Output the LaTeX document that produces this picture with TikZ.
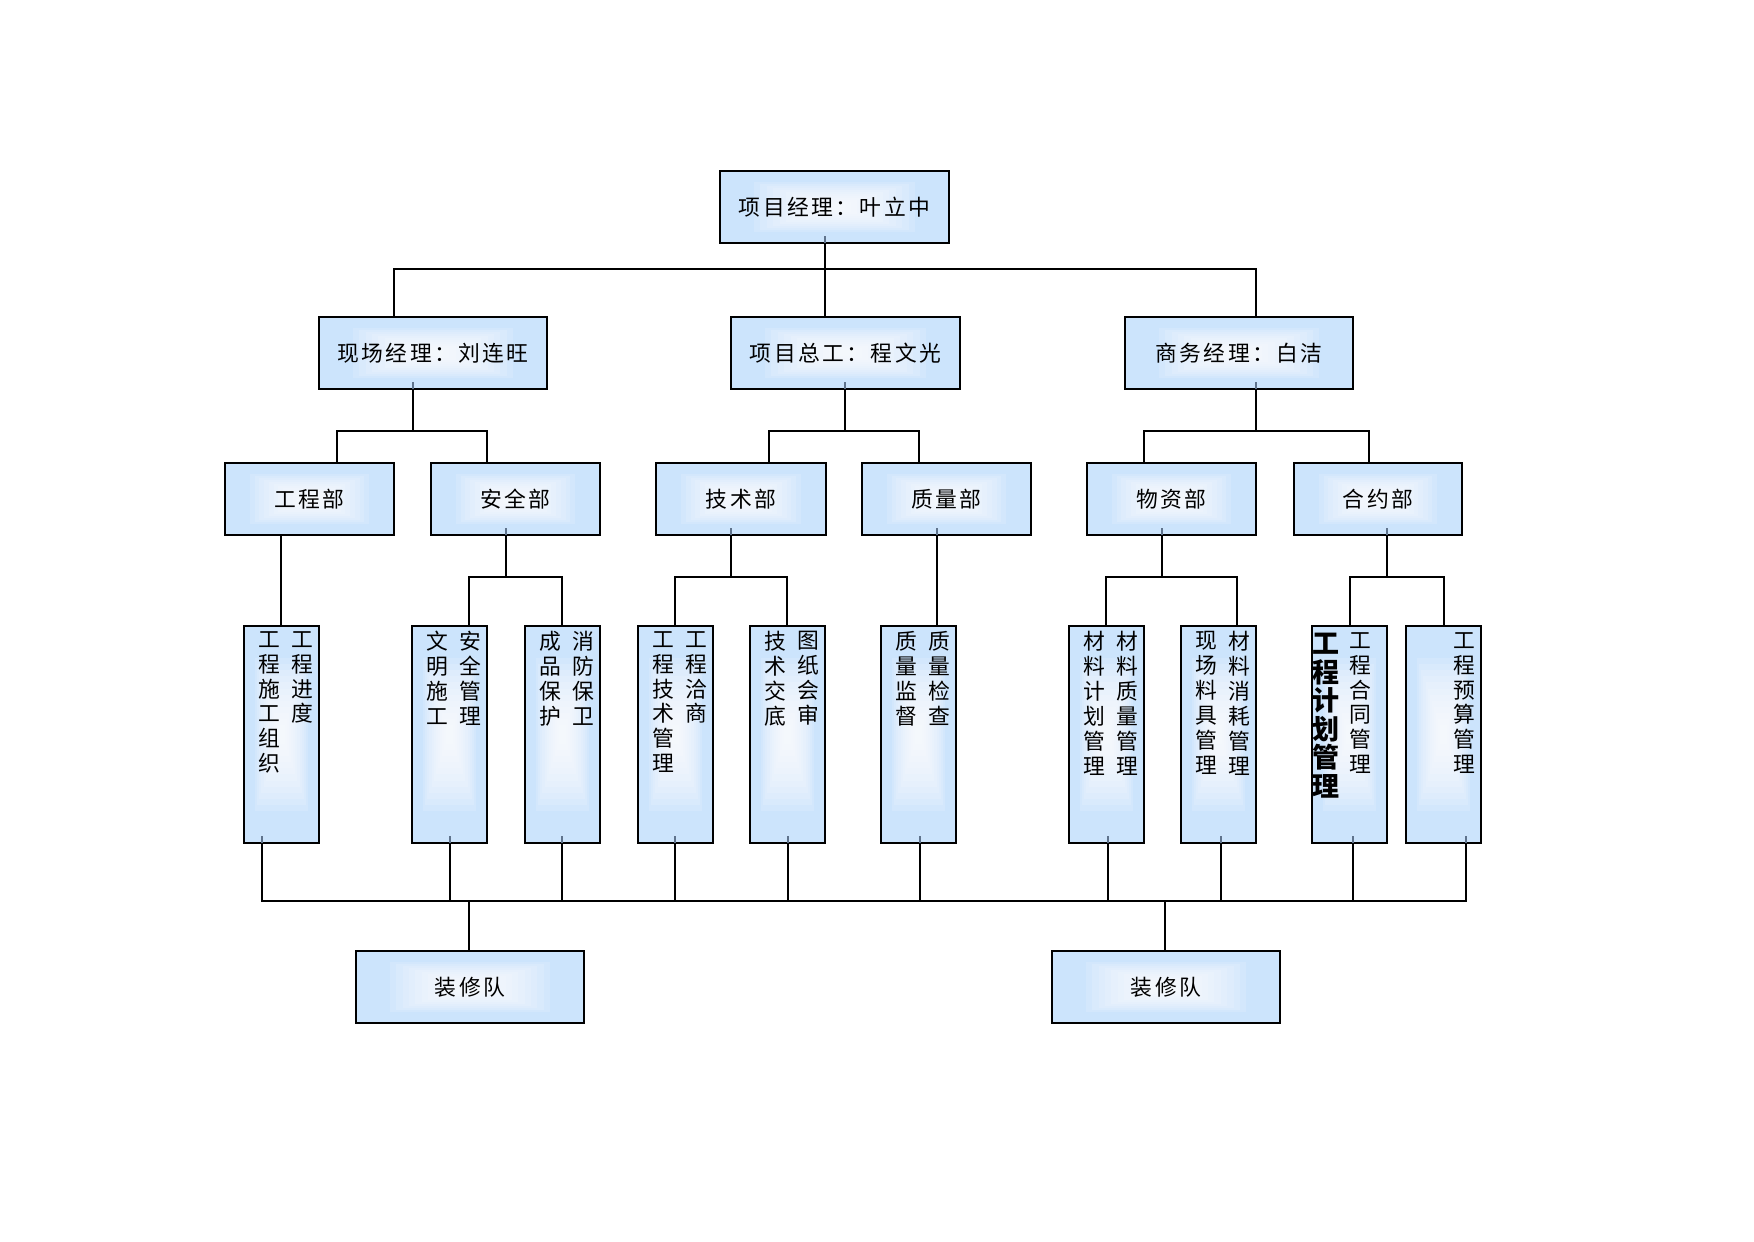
\documentclass[tikz,border=0pt]{standalone}
\usepackage{fontspec}
\newfontfamily\cjk{Noto Sans CJK SC}
\usetikzlibrary{calc}
\definecolor{boxblue}{RGB}{204,228,252}
\definecolor{stubc}{RGB}{95,115,140}
\newcommand\pxu{0.16933mm}
\newcommand\hfont{\cjk\fontsize{10.5pt}{12pt}\selectfont\addfontfeature{LetterSpace=11}}
\newcommand\vfont{\cjk\fontsize{10.5pt}{12pt}\selectfont}
\newcommand\bvfont{\cjk\bfseries\fontsize{13pt}{13.7pt}\selectfont}
\tikzset{
  gbox/.style={draw=black, line width=1pt, fill=boxblue, inner sep=0pt, outer sep=0pt, font=\hfont,
    path picture={
      \foreach \k in {1,...,12}{
        \pgfmathsetmacro\ff{0.12+0.028*\k}
        \fill[white,opacity=0.14]
          ($(path picture bounding box.south west)!\ff!(path picture bounding box.north east)$)
          rectangle
          ($(path picture bounding box.north east)!\ff!(path picture bounding box.south west)$);
      }
    }},
  thk/.style={line width=1pt, line cap=rect},
  thn/.style={line width=0.55pt, line cap=rect},
  stub/.style={draw=stubc, line width=0.6pt},
  vcol/.style={anchor=north, align=center, inner sep=0pt, font=\vfont},
  bcol/.style={anchor=north, align=center, inner sep=0pt, font=\bvfont},
}
\newcommand\bx[6]{\node[gbox, minimum width={(#4-#2)*\pxu}, minimum height={(#5-#3)*\pxu}] (#1) at ({(#2+#4)/2},{(#3+#5)/2}) {#6};}
\begin{document}
\begin{tikzpicture}[x=0.16933mm, y=-0.16933mm]
\useasboundingbox (0,0) rectangle (1754,1241);
% boxes
\bx{pm}{720}{171}{949}{243}{项目经理：叶立中}
\bx{sm}{319}{317}{547}{389}{现场经理：刘连旺}
\bx{ce}{731}{317}{960}{389}{项目总工：程文光}
\bx{bm}{1125}{317}{1353}{389}{商务经理：白洁\hspace{16pt}}
\bx{gc}{225}{463}{394}{535}{工程部}
\bx{aq}{431}{463}{600}{535}{安全部}
\bx{js}{656}{463}{826}{535}{技术部}
\bx{zl}{862}{463}{1031}{535}{质量部}
\bx{wz}{1087}{463}{1256}{535}{物资部}
\bx{hy}{1294}{463}{1462}{535}{合约部}
\bx{La}{244}{626}{319}{843}{}
\bx{Lb}{412}{626}{487}{843}{}
\bx{Lc}{525}{626}{600}{843}{}
\bx{Ld}{638}{626}{713}{843}{}
\bx{Le}{750}{626}{825}{843}{}
\bx{Lf}{881}{626}{956}{843}{}
\bx{Lg}{1069}{626}{1144}{843}{}
\bx{Lh}{1181}{626}{1256}{843}{}
\bx{Li}{1312}{626}{1387}{843}{}
\bx{Lj}{1406}{626}{1481}{843}{}
\bx{zxa}{356}{951}{584}{1023}{装修队}
\bx{zxb}{1052}{951}{1280}{1023}{装修队}
% vertical texts
\node[vcol] (ta1) at (302,631) {工\\程\\进\\度};
\node[vcol] (ta2) at (269,631) {工\\程\\施\\工\\组\\织};
\node[vcol] (tb1) at (470,631) {安\\全\\管\\理};
\node[vcol] (tb2) at (437,631) {文\\明\\施\\工};
\node[vcol] (tc1) at (583,631) {消\\防\\保\\卫};
\node[vcol] (tc2) at (550,631) {成\\品\\保\\护};
\node[vcol] (td1) at (696,631) {工\\程\\洽\\商};
\node[vcol] (td2) at (663,631) {工\\程\\技\\术\\管\\理};
\node[vcol] (te1) at (808,631) {图\\纸\\会\\审};
\node[vcol] (te2) at (775,631) {技\\术\\交\\底};
\node[vcol] (tf1) at (939,631) {质\\量\\检\\查};
\node[vcol] (tf2) at (906,631) {质\\量\\监\\督};
\node[vcol] (tg1) at (1127,631) {材\\料\\质\\量\\管\\理};
\node[vcol] (tg2) at (1094,631) {材\\料\\计\\划\\管\\理};
\node[vcol] (th1) at (1239,631) {材\\料\\消\\耗\\管\\理};
\node[vcol] (th2) at (1206,631) {现\\场\\料\\具\\管\\理};
\node[vcol] (ti1) at (1360,632) {工\\程\\合\\同\\管\\理};
\node[bcol] (ti2) at (1326,633) {工\\程\\计\\划\\管\\理};
\node[vcol] (tj1) at (1464,632) {工\\程\\预\\算\\管\\理};
% coordinates
\coordinate (t0) at (825,269);
\coordinate (tl) at (394,269);
\coordinate (tr) at (1256,269);
\coordinate (a0) at (413,431); \coordinate (a1) at (337,431); \coordinate (a2) at (487,431);
\coordinate (b0) at (845,431); \coordinate (b1) at (769,431); \coordinate (b2) at (919,431);
\coordinate (c0) at (1256,431); \coordinate (c1) at (1144,431); \coordinate (c2) at (1369,431);
\coordinate (d0) at (281,577);
\coordinate (e0) at (506,577); \coordinate (e1) at (469,577); \coordinate (e2) at (562,577);
\coordinate (f0) at (731,577); \coordinate (f1) at (675,577); \coordinate (f2) at (787,577);
\coordinate (g0) at (937,577);
\coordinate (h0) at (1162,577); \coordinate (h1) at (1106,577); \coordinate (h2) at (1237,577);
\coordinate (k0) at (1387,577); \coordinate (k1) at (1350,577); \coordinate (k2) at (1444,577);
\coordinate (m1) at (262,901); \coordinate (m2) at (450,901); \coordinate (m3) at (562,901);
\coordinate (m4) at (675,901); \coordinate (m5) at (788,901); \coordinate (m6) at (920,901);
\coordinate (m7) at (1108,901); \coordinate (m8) at (1221,901); \coordinate (m9) at (1353,901);
\coordinate (m10) at (1466,901);
\coordinate (n1) at (469,901); \coordinate (n2) at (1165,901);
% level 1 -> 2
\draw[thk] (pm.south -| t0) -- (ce.north -| t0);
\draw[thn] (tl) -- (tr);
\draw[thk] (tl) -- (sm.north -| tl);
\draw[thk] (tr) -- (bm.north -| tr);
% level 2 -> 3
\draw[thn] (sm.south -| a0) -- (a0);
\draw[thk] (a1) -- (a2);
\draw[thn] (a1) -- (gc.north -| a1);
\draw[thn] (a2) -- (aq.north -| a2);
\draw[thk] (ce.south -| b0) -- (b0);
\draw[thk] (b1) -- (b2);
\draw[thk] (b1) -- (js.north -| b1);
\draw[thk] (b2) -- (zl.north -| b2);
\draw[thk] (bm.south -| c0) -- (c0);
\draw[thk] (c1) -- (c2);
\draw[thk] (c1) -- (wz.north -| c1);
\draw[thk] (c2) -- (hy.north -| c2);
% level 3 -> 4
\draw[thk] (gc.south -| d0) -- (La.north -| d0);
\draw[thk] (aq.south -| e0) -- (e0);
\draw[thk] (e1) -- (e2);
\draw[thk] (e1) -- (Lb.north -| e1);
\draw[thn] (e2) -- (Lc.north -| e2);
\draw[thk] (js.south -| f0) -- (f0);
\draw[thk] (f1) -- (f2);
\draw[thk] (f1) -- (Ld.north -| f1);
\draw[thn] (f2) -- (Le.north -| f2);
\draw[thn] (zl.south -| g0) -- (Lf.north -| g0);
\draw[thn] (wz.south -| h0) -- (h0);
\draw[thk] (h1) -- (h2);
\draw[thk] (h1) -- (Lg.north -| h1);
\draw[thn] (h2) -- (Lh.north -| h2);
\draw[thn] (hy.south -| k0) -- (k0);
\draw[thk] (k1) -- (k2);
\draw[thk] (k1) -- (Li.north -| k1);
\draw[thk] (k2) -- (Lj.north -| k2);
% level 4 -> bus
\draw[thk] (m1) -- (m10);
\draw[thn] (La.south -| m1) -- (m1);
\draw[thk] (Lb.south -| m2) -- (m2);
\draw[thn] (Lc.south -| m3) -- (m3);
\draw[thk] (Ld.south -| m4) -- (m4);
\draw[thn] (Le.south -| m5) -- (m5);
\draw[thk] (Lf.south -| m6) -- (m6);
\draw[thk] (Lg.south -| m7) -- (m7);
\draw[thk] (Lh.south -| m8) -- (m8);
\draw[thk] (Li.south -| m9) -- (m9);
\draw[thn] (Lj.south -| m10) -- (m10);
\draw[thk] (n1) -- (zxa.north -| n1);
\draw[thn] (n2) -- (zxb.north -| n2);
% stubs inside boxes
\draw[stub] (pm.south -| t0) -- ++(0,-7);
\draw[stub] (sm.south -| a0) -- ++(0,-7);
\draw[stub] (ce.south -| b0) -- ++(0,-7);
\draw[stub] (bm.south -| c0) -- ++(0,-7);
\draw[stub] (aq.south -| e0) -- ++(0,-7);
\draw[stub] (js.south -| f0) -- ++(0,-7);
\draw[stub] (zl.south -| g0) -- ++(0,-7);
\draw[stub] (wz.south -| h0) -- ++(0,-7);
\draw[stub] (hy.south -| k0) -- ++(0,-7);
\draw[stub] (La.south -| m1) -- ++(0,-7);
\draw[stub] (Lb.south -| m2) -- ++(0,-7);
\draw[stub] (Lc.south -| m3) -- ++(0,-7);
\draw[stub] (Ld.south -| m4) -- ++(0,-7);
\draw[stub] (Le.south -| m5) -- ++(0,-7);
\draw[stub] (Lf.south -| m6) -- ++(0,-7);
\draw[stub] (Lg.south -| m7) -- ++(0,-7);
\draw[stub] (Lh.south -| m8) -- ++(0,-7);
\draw[stub] (Li.south -| m9) -- ++(0,-7);
\draw[stub] (Lj.south -| m10) -- ++(0,-7);
\end{tikzpicture}
\end{document}
